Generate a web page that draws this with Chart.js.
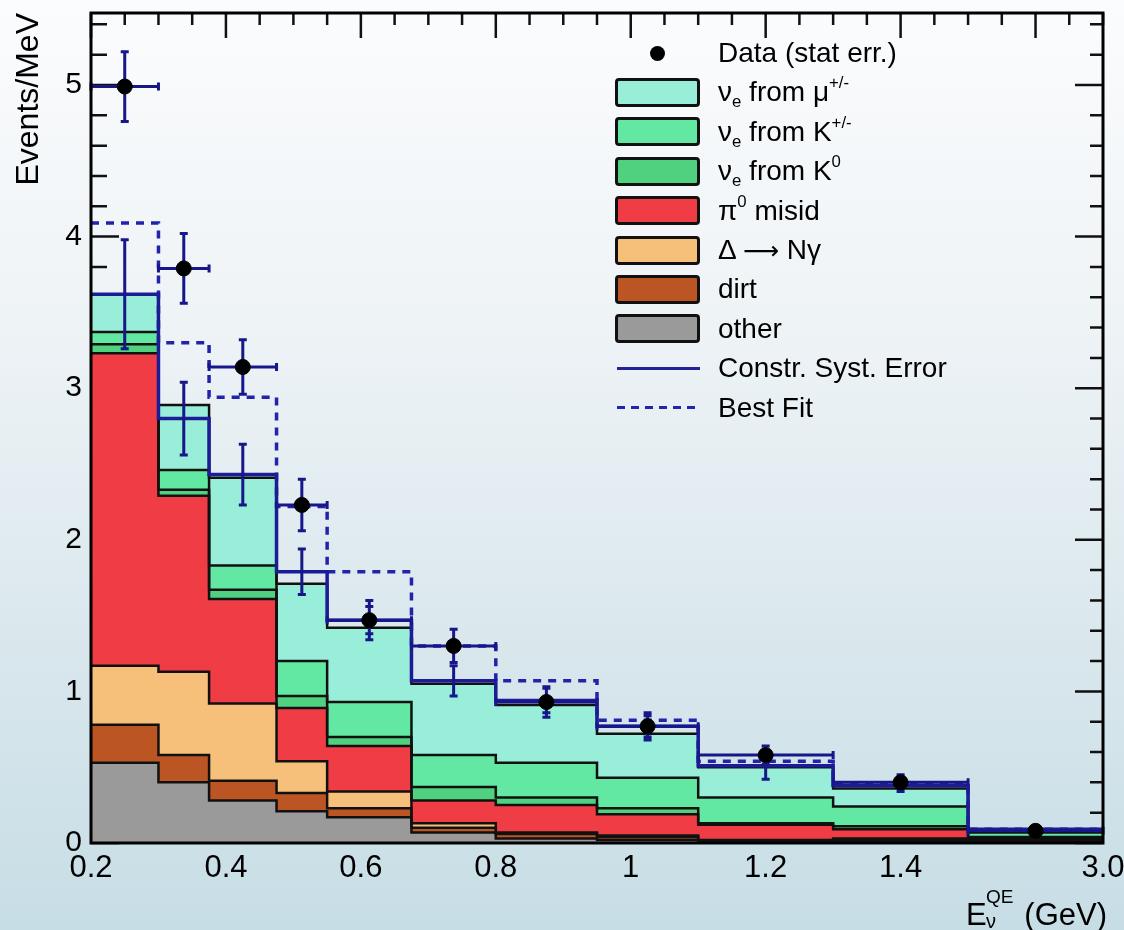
<!DOCTYPE html>
<html lang="en">
<head>
    <meta charset="UTF-8">
    <title>Electron-like events vs E_QE</title>
    <script src="https://cdn.jsdelivr.net/npm/chart.js"></script>
    <style>
        html, body { margin: 0; padding: 0; }
        body {
            width: 1124px; height: 930px; overflow: hidden; position: relative;
            background: linear-gradient(to bottom, #fbfcfd 0%, #eef3f6 35%, #c7dde5 100%);
            font-family: 'Liberation Sans', Arial, sans-serif; color: #000;
        }
        #wrap { position: absolute; left: 0; top: 0; width: 1124px; height: 930px; }
        .lg-row { position: absolute; left: 615px; height: 40px; display: flex; align-items: center; font-size: 28px; white-space: nowrap; }
        .lg-key { width: 85px; height: 29px; box-sizing: border-box; position: relative; flex: none; }
        .lg-box { border: 3px solid #111; border-radius: 4px; }
        .lg-dot { position: absolute; left: 35px; top: 7px; width: 15px; height: 15px; border-radius: 50%; background: #000; }
        .lg-line { position: absolute; left: 2px; right: 0; top: 13px; height: 3px; background: #22229a; }
        .lg-dash { position: absolute; left: 2px; right: 0; top: 13px; height: 3px;
                   background: repeating-linear-gradient(to right, #2424b0 0 8px, transparent 8px 14px); }
        .lg-text { margin-left: 18px; }
        .lg-text sub { font-size: 0.6em; vertical-align: -0.35em; line-height: 0; }
        .lg-text sup { font-size: 0.6em; vertical-align: 0.8em; line-height: 0; }
        .lg-text .arrow { font-family: 'DejaVu Sans', sans-serif; font-size: 0.9em; }
        .xt { position: absolute; line-height: 1; white-space: nowrap; }
    </style>
</head>
<body>
    <div id="wrap"><canvas id="chart"></canvas></div>
    <div id="legend"></div>
    <span class="xt" style="left:966px; top:899px; font-size:31px;">E</span>
    <span class="xt" style="left:986px; top:887px; font-size:19px;">QE</span>
    <span class="xt" style="left:986px; top:911px; font-size:20px;">ν</span>
    <span class="xt" style="right:17px; top:899px; font-size:31px;">(GeV)</span>

    <script>
        // bin edges in GeV (last bin 1.5-3.0 is squeezed on the axis)
        const binEdges = [0.2, 0.3, 0.375, 0.475, 0.55, 0.675, 0.8, 0.95, 1.1, 1.3, 1.5, 3.0];
        const xTickValues = [0.2, 0.4, 0.6, 0.8, 1.0, 1.2, 1.4, 3.0];
        const xTickLabels = ['0.2', '0.4', '0.6', '0.8', '1', '1.2', '1.4', '3.0'];
        const yTickValues = [0, 1, 2, 3, 4, 5];

        // background contributions per bin (Events/MeV), bottom of the stack first
        const other   = [0.53, 0.40, 0.28, 0.21, 0.17, 0.07, 0.03, 0.02, 0.01, 0.01, 0.005];
        const dirt    = [0.25, 0.18, 0.13, 0.12, 0.06, 0.03, 0.03, 0.02, 0.005, 0.01, 0.005];
        const deltaNg = [0.39, 0.55, 0.51, 0.21, 0.11, 0.03, 0.01, 0.01, 0.005, 0.01, 0.01];
        const pi0     = [2.06, 1.16, 0.69, 0.35, 0.30, 0.15, 0.18, 0.14, 0.10, 0.06, 0.01];
        const nueK0   = [0.06, 0.04, 0.06, 0.08, 0.06, 0.09, 0.05, 0.04, 0.01, 0.02, 0.01];
        const nueKpm  = [0.08, 0.13, 0.16, 0.23, 0.23, 0.21, 0.23, 0.20, 0.17, 0.13, 0.03];
        const nueMu   = [0.25, 0.43, 0.58, 0.51, 0.49, 0.47, 0.38, 0.29, 0.20, 0.12, 0.015];

        const dataVals = [4.99, 3.79, 3.14, 2.23, 1.47, 1.30, 0.93, 0.77, 0.58, 0.40, 0.08];
        const dataErr  = [0.23, 0.23, 0.18, 0.17, 0.13, 0.11, 0.10, 0.09, 0.06, 0.05, 0.03];
        const systVals = [3.62, 2.80, 2.43, 1.79, 1.47, 1.07, 0.94, 0.77, 0.51, 0.38, 0.09];
        const systErr  = [0.36, 0.24, 0.20, 0.15, 0.09, 0.10, 0.08, 0.07, 0.09, 0.04, 0.02];
        const bestFit  = [4.09, 3.30, 2.94, 2.22, 1.79, 1.30, 1.07, 0.81, 0.54, 0.39, 0.09];

        // legend order (top of stack first)
        const stackSeries = [nueMu, nueKpm, nueK0, pi0, deltaNg, dirt, other];
        const stackLabels = [
            'ν<sub>e</sub> from μ<sup>+/-</sup>',
            'ν<sub>e</sub> from K<sup>+/-</sup>',
            'ν<sub>e</sub> from K<sup>0</sup>',
            'π<sup>0</sup> misid',
            'Δ <span class="arrow">⟶</span> Nγ',
            'dirt',
            'other'
        ];
        const stackColors = ['#98eed8', '#62e8a2', '#4fd17f', '#f03d45', '#f6c07a', '#bb5624', '#9a9a9a'];

        // the 1.5-3.0 GeV bin gets 0.2 axis units, like the original plot
        const BREAK = 1.5, SQUEEZE = 0.2 / 1.5;
        function axisX(e) { return e <= BREAK ? e : BREAK + (e - BREAK) * SQUEEZE; }

        function stepPoints(vals) {
            return binEdges.map((e, i) => ({ x: axisX(e), y: vals[Math.min(i, vals.length - 1)] }));
        }

        // cumulative tops, built from the bottom of the stack
        const nBins = binEdges.length - 1;
        const cumulative = [];
        let running = new Array(nBins).fill(0);
        for (let s = stackSeries.length - 1; s >= 0; s--) {
            running = running.map((v, i) => v + stackSeries[s][i]);
            cumulative[s] = running.slice();
        }

        const datasets = [];
        datasets.push({
            label: 'Data (stat err.)',
            data: dataVals.map((v, i) => ({ x: axisX((binEdges[i] + binEdges[i + 1]) / 2), y: v })),
            showLine: false, pointRadius: 7.5, pointBackgroundColor: '#000', pointBorderColor: '#000',
            order: 0
        });
        stackSeries.forEach((s, k) => {
            datasets.push({
                label: stackLabels[k],
                data: stepPoints(cumulative[k]),
                stepped: true,
                backgroundColor: stackColors[k],
                borderColor: '#111',
                borderWidth: 2.5,
                pointRadius: 0,
                fill: k === stackSeries.length - 1 ? 'origin' : '+1',
                order: 2
            });
        });
        datasets.push({
            label: 'Constr. Syst. Error',
            data: stepPoints(systVals),
            stepped: true, borderColor: '#1c1c96', borderWidth: 3.5, pointRadius: 0, fill: false, order: 1
        });
        datasets.push({
            label: 'Best Fit',
            data: stepPoints(bestFit),
            stepped: true, borderColor: '#2222aa', borderWidth: 3.5, borderDash: [8, 7],
            pointRadius: 0, fill: false, order: 1
        });

        // ROOT style frame with inward ticks, plus error bars
        const rootFrame = {
            id: 'rootFrame',
            beforeDraw(chart) {
                const { ctx, chartArea: a, scales: { x, y } } = chart;
                ctx.save();
                ctx.strokeStyle = '#111';
                ctx.lineWidth = 2.5;
                ctx.beginPath();
                for (let k = 0; k <= 30; k++) {
                    const px = x.getPixelForValue(0.2 + k * 0.05);
                    const len = k % 4 === 0 ? 25 : 12;
                    ctx.moveTo(px, a.top);
                    ctx.lineTo(px, a.top + len);
                }
                for (let k = 0; k <= 27; k++) {
                    const py = y.getPixelForValue(k * 0.2);
                    const major = k % 5 === 0;
                    ctx.moveTo(a.left, py);
                    ctx.lineTo(a.left + (major ? 28 : 16), py);
                    ctx.moveTo(a.right, py);
                    ctx.lineTo(a.right - (major ? 28 : 13), py);
                }
                ctx.stroke();
                ctx.restore();
            },
            beforeDatasetDraw(chart, args) {
                if (args.index !== 0) return;
                const { ctx, scales: { x, y } } = chart;
                const cap = 4;
                ctx.save();
                ctx.strokeStyle = '#17178a';
                ctx.lineWidth = 3;
                ctx.beginPath();
                for (let i = 0; i < nBins; i++) {
                    const xc = x.getPixelForValue(axisX((binEdges[i] + binEdges[i + 1]) / 2));
                    // constrained prediction error
                    const s0 = y.getPixelForValue(systVals[i] - systErr[i]);
                    const s1 = y.getPixelForValue(systVals[i] + systErr[i]);
                    ctx.moveTo(xc, s0); ctx.lineTo(xc, s1);
                    ctx.moveTo(xc - cap, s0); ctx.lineTo(xc + cap, s0);
                    ctx.moveTo(xc - cap, s1); ctx.lineTo(xc + cap, s1);
                    // data: bin width and stat error
                    const xl = x.getPixelForValue(axisX(binEdges[i]));
                    const xr = x.getPixelForValue(axisX(binEdges[i + 1]));
                    const yd = y.getPixelForValue(dataVals[i]);
                    const d0 = y.getPixelForValue(dataVals[i] - dataErr[i]);
                    const d1 = y.getPixelForValue(dataVals[i] + dataErr[i]);
                    ctx.moveTo(xl, yd); ctx.lineTo(xr, yd);
                    ctx.moveTo(xl, yd - cap); ctx.lineTo(xl, yd + cap);
                    ctx.moveTo(xr, yd - cap); ctx.lineTo(xr, yd + cap);
                    ctx.moveTo(xc, d0); ctx.lineTo(xc, d1);
                    ctx.moveTo(xc - cap, d0); ctx.lineTo(xc + cap, d0);
                    ctx.moveTo(xc - cap, d1); ctx.lineTo(xc + cap, d1);
                }
                ctx.stroke();
                ctx.restore();
            },
            afterDatasetsDraw(chart) {
                const { ctx, chartArea: a } = chart;
                ctx.save();
                ctx.strokeStyle = '#000';
                ctx.lineWidth = 3;
                ctx.strokeRect(a.left, a.top, a.right - a.left, a.bottom - a.top);
                ctx.restore();
            }
        };

        Chart.defaults.font.family = "'Liberation Sans', Arial, sans-serif";
        Chart.defaults.color = '#000';

        new Chart(document.getElementById('chart'), {
            type: 'line',
            data: { datasets },
            options: {
                responsive: true,
                maintainAspectRatio: false,
                animation: false,
                layout: { padding: { top: 13, right: 21, left: 0, bottom: 0 } },
                plugins: {
                    legend: { display: false },
                    tooltip: { enabled: false },
                    filler: { drawTime: 'beforeDatasetsDraw' }
                },
                scales: {
                    x: {
                        type: 'linear',
                        min: axisX(binEdges[0]),
                        max: axisX(binEdges[binEdges.length - 1]),
                        grid: { display: false, drawTicks: false },
                        border: { display: false },
                        afterBuildTicks: (scale) => {
                            scale.ticks = xTickValues.map(v => ({ value: axisX(v) }));
                        },
                        afterFit: (scale) => {
                            scale.height = 87;
                            scale.paddingLeft = 0;
                            scale.paddingRight = 0;
                        },
                        ticks: {
                            autoSkip: false, maxRotation: 0, padding: 7,
                            font: { size: 31 },
                            callback: (value, index) => xTickLabels[index]
                        }
                    },
                    y: {
                        type: 'linear',
                        min: 0,
                        max: 5.475,
                        grid: { display: false, drawTicks: false },
                        border: { display: false },
                        afterBuildTicks: (scale) => {
                            scale.ticks = yTickValues.map(v => ({ value: v }));
                        },
                        afterFit: (scale) => {
                            scale.width = 91;
                            scale.paddingTop = 0;
                            scale.paddingBottom = 0;
                        },
                        ticks: { padding: 9, font: { size: 30 } },
                        title: {
                            display: true, text: 'Events/MeV', align: 'end',
                            font: { size: 32 }, padding: { top: 10, bottom: 0 }
                        }
                    }
                }
            },
            plugins: [rootFrame]
        });

        // legend, laid out like the ROOT TLegend
        const legendRows = [{ key: 'dot', label: 'Data (stat err.)' }]
            .concat(stackLabels.map((l, k) => ({ key: 'box', color: stackColors[k], label: l })))
            .concat([{ key: 'line', label: 'Constr. Syst. Error' }, { key: 'dash', label: 'Best Fit' }]);
        const legend = document.getElementById('legend');
        legendRows.forEach((r, i) => {
            const row = document.createElement('div');
            row.className = 'lg-row';
            row.style.top = (53 + i * 39.4 - 20) + 'px';
            let key;
            if (r.key === 'box') key = `<div class="lg-key lg-box" style="background:${r.color}"></div>`;
            else key = `<div class="lg-key"><div class="lg-${r.key}"></div></div>`;
            row.innerHTML = key + `<span class="lg-text">${r.label}</span>`;
            legend.appendChild(row);
        });
    </script>
</body>
</html>
